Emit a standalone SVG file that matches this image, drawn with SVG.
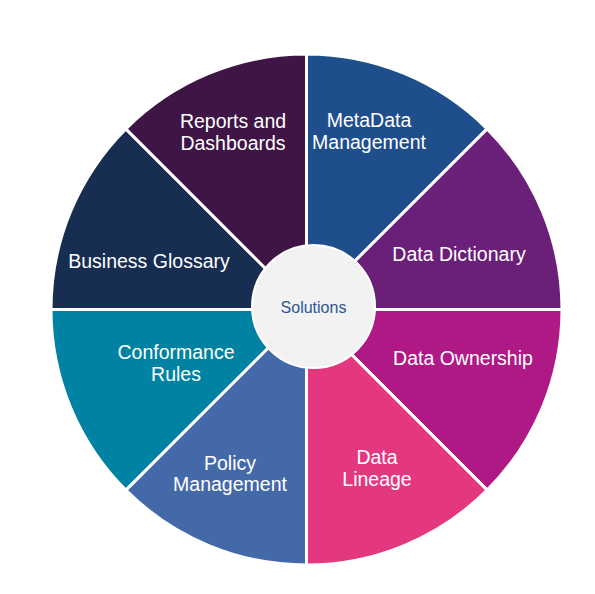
<svg xmlns="http://www.w3.org/2000/svg" width="595" height="594" viewBox="0 0 595 594">
<style>
.w{stroke:#ffffff;stroke-width:3;stroke-linejoin:miter}
.t{font-family:"Liberation Sans",Arial,sans-serif;font-size:19.5px;fill:#ffffff;text-anchor:middle}
.c{font-family:"Liberation Sans",Arial,sans-serif;font-size:16px;fill:#2f5597;text-anchor:middle}
</style>
<rect width="595" height="594" fill="#ffffff"/>
<g id="metadata-management">
<path class="w" fill="#1f4e8c" d="M306.5 309.5 L306.5 54 A255.5 255.5 0 0 1 487.16 128.84 Z"/>
<text class="t" x="369" y="127">MetaData</text>
<text class="t" x="369" y="149">Management</text>
</g>
<g id="data-dictionary">
<path class="w" fill="#6a1f78" d="M306.5 309.5 L487.16 128.84 A255.5 255.5 0 0 1 562 309.5 Z"/>
<text class="t" x="459" y="261">Data Dictionary</text>
</g>
<g id="data-ownership">
<path class="w" fill="#ae1985" d="M306.5 309.5 L562 309.5 A255.5 255.5 0 0 1 487.16 490.16 Z"/>
<text class="t" x="463" y="365">Data Ownership</text>
</g>
<g id="data-lineage">
<path class="w" fill="#e3387f" d="M306.5 309.5 L487.16 490.16 A255.5 255.5 0 0 1 306.5 565 Z"/>
<text class="t" x="377" y="464">Data</text>
<text class="t" x="377" y="486">Lineage</text>
</g>
<g id="policy-management">
<path class="w" fill="#4469a8" d="M306.5 309.5 L306.5 565 A255.5 255.5 0 0 1 125.84 490.16 Z"/>
<text class="t" x="230" y="470">Policy</text>
<text class="t" x="230" y="491">Management</text>
</g>
<g id="conformance-rules">
<path class="w" fill="#0083a2" d="M306.5 309.5 L125.84 490.16 A255.5 255.5 0 0 1 51 309.5 Z"/>
<text class="t" x="176" y="359">Conformance</text>
<text class="t" x="176" y="381">Rules</text>
</g>
<g id="business-glossary">
<path class="w" fill="#172d52" d="M306.5 309.5 L51 309.5 A255.5 255.5 0 0 1 125.84 128.84 Z"/>
<text class="t" x="149" y="268">Business Glossary</text>
</g>
<g id="reports-and-dashboards">
<path class="w" fill="#3e1545" d="M306.5 309.5 L125.84 128.84 A255.5 255.5 0 0 1 306.5 54 Z"/>
<text class="t" x="233" y="128">Reports and</text>
<text class="t" x="233" y="150">Dashboards</text>
</g>
<g id="solutions">
<circle cx="313.5" cy="306.5" r="61.5" fill="#f2f2f2" stroke="#ffffff" stroke-width="2"/>
<text class="c" x="313.5" y="312.5">Solutions</text>
</g>
</svg>
